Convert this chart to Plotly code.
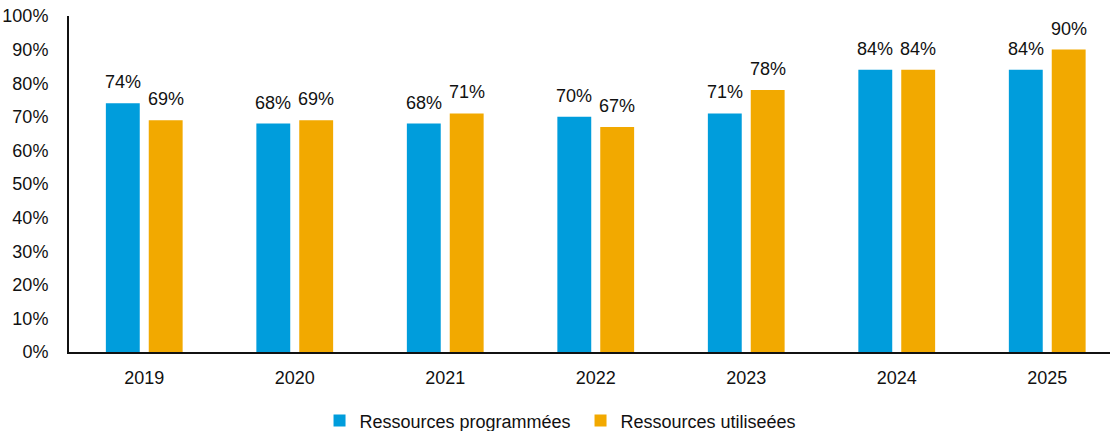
import plotly.graph_objects as go

years = ["2019", "2020", "2021", "2022", "2023", "2024", "2025"]
programmees = [74, 68, 68, 70, 71, 84, 84]
utilisees = [69, 69, 71, 67, 78, 84, 90]
y_ticks = [0, 10, 20, 30, 40, 50, 60, 70, 80, 90, 100]
y_tick_labels = [f"{v}%" for v in y_ticks]

blue = "#009DDC"
orange = "#F2A900"
font = "Liberation Sans, Arial, sans-serif"

fig = go.Figure()
fig.add_trace(go.Bar(name="Ressources programmées", x=years, y=programmees,
                     marker=dict(color=blue, line=dict(width=0)),
                     offsetgroup="a"))
fig.add_trace(go.Bar(name="Ressources utiliseées", x=years, y=utilisees,
                     marker=dict(color=orange, line=dict(width=0)),
                     offsetgroup="b"))

# value labels above bars
for i, (yr, a, b) in enumerate(zip(years, programmees, utilisees)):
    for val, shift in ((a, -0.1425), (b, 0.1425)):
        fig.add_annotation(x=i + shift, y=val, xref="x", yref="y",
                           text=f"{val}%", showarrow=False,
                           yanchor="bottom", yshift=9,
                           font=dict(family=font, size=18, color="#111111"))

fig.update_layout(
    width=1110, height=431,
    margin=dict(l=69, r=0, t=16, b=79, autoexpand=False),
    paper_bgcolor="white", plot_bgcolor="white",
    barmode="group", bargap=0.43, bargroupgap=0.21,
    font=dict(family=font, size=18, color="#111111"),
    showlegend=True,
    legend=dict(orientation="h", xref="container", x=0.523, xanchor="center",
                y=-0.205, yanchor="middle", itemwidth=30,
                entrywidth=216, entrywidthmode="pixels",
                font=dict(family=font, size=18, color="#111111"),
                traceorder="normal"),
    xaxis=dict(type="category", range=[-0.5, 6.417], showline=True, linecolor="#111111",
               linewidth=2, showgrid=False, ticks="", ticklabelstandoff=8,
               automargin=False, tickfont=dict(family=font, size=18)),
    yaxis=dict(range=[0, 100], tickvals=y_ticks, ticktext=y_tick_labels,
               showline=True, linecolor="#111111", linewidth=2, showgrid=False,
               zeroline=False, ticks="", ticklabelstandoff=15, automargin=False,
               tickfont=dict(family=font, size=18)),
)

fig.write_html("out.html", config={"displayModeBar": False},
               post_script="document.body.style.margin='0';")
